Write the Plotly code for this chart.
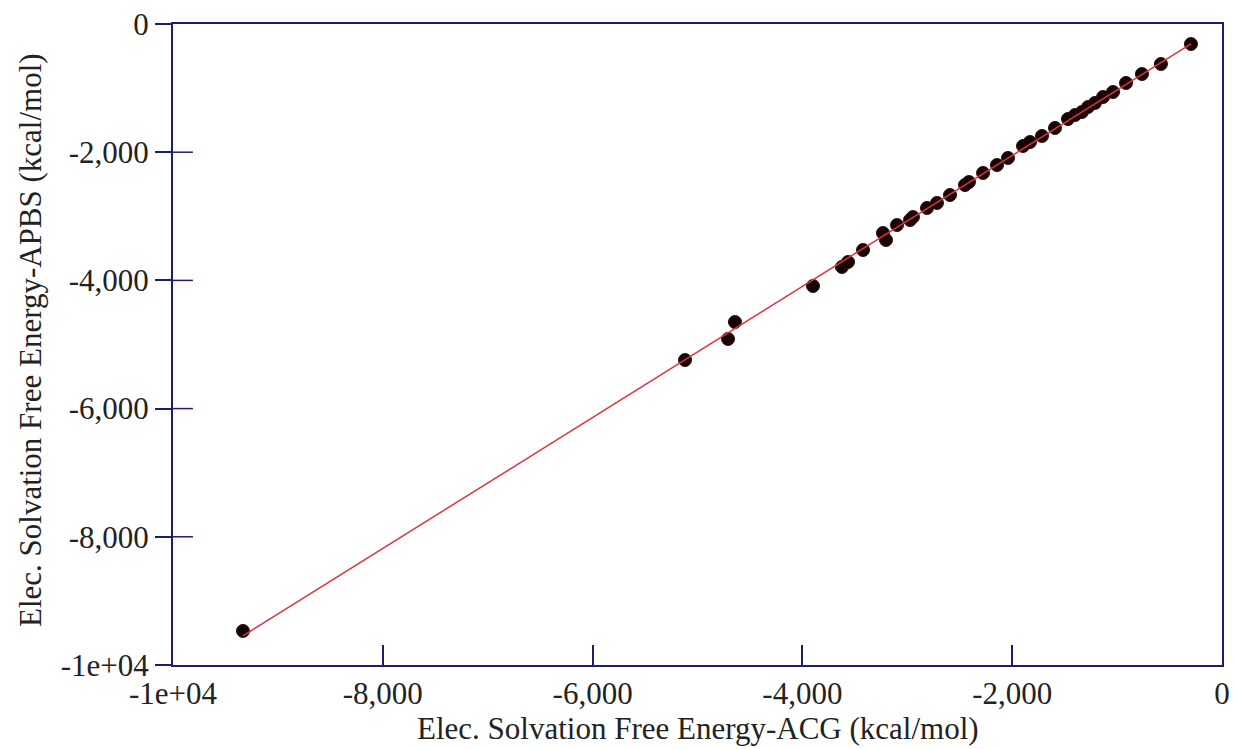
import numpy as np
import plotly.graph_objects as go

# Data (kcal/mol)
acg = [-9333, -5119, -4709, -4643, -3899, -3623, -3565, -3422, -3232, -3203,
       -3098, -2974, -2946, -2812, -2717, -2593, -2450, -2412, -2278, -2145,
       -2040, -1897, -1830, -1716, -1592, -1468, -1401, -1335, -1277, -1211,
       -1134, -1039, -915, -763, -582, -296]
apbs = [-9469, -5242, -4914, -4649, -4087, -3791, -3713, -3526, -3261, -3370,
        -3136, -3058, -3011, -2870, -2792, -2668, -2512, -2465, -2324, -2200,
        -2090, -1903, -1841, -1747, -1622, -1482, -1420, -1373, -1295, -1232,
        -1139, -1061, -920, -780, -624, -312]

tick_vals = [-10000, -8000, -6000, -4000, -2000, 0]
tick_text = ["-1e+04", "-8,000", "-6,000", "-4,000", "-2,000", "0"]

x_title = "Elec. Solvation Free Energy-ACG (kcal/mol)"
y_title = "Elec. Solvation Free Energy-APBS (kcal/mol)"

x_arr = np.array(acg, dtype=float)
y_arr = np.array(apbs, dtype=float)
slope, intercept = np.polyfit(x_arr, y_arr, 1)
fit_x = np.array([x_arr.min(), x_arr.max()])
fit_y = slope * fit_x + intercept

AX = "#1c1c78"
FONT = "Liberation Serif, Times New Roman, serif"
FS = 31
TXT = "#222222"

fig = go.Figure()
fig.add_trace(go.Scatter(x=acg, y=apbs, mode="markers",
                         marker=dict(color="#140404", size=13,
                                     line=dict(color="#3a0a0a", width=1)),
                         showlegend=False))
fig.add_trace(go.Scatter(x=fit_x, y=fit_y, mode="lines",
                         line=dict(color="#e0323c", width=1.5),
                         showlegend=False))

# inner halves of the y ticks (the reference ticks cross the axis line)
for v in tick_vals[1:-1]:
    fig.add_shape(type="line", xref="x domain", x0=0, x1=0.019,
                  yref="y", y0=v, y1=v,
                  line=dict(color=AX, width=1.5), layer="above")

fig.update_layout(
    width=1235, height=749,
    margin=dict(l=173, r=13, t=24, b=84),
    paper_bgcolor="white", plot_bgcolor="white",
    font=dict(family=FONT, size=FS, color=TXT),
    xaxis=dict(range=[-10000, 0], tickvals=tick_vals, ticktext=tick_text,
               showgrid=False, zeroline=False, automargin=False,
               showline=True, linecolor=AX, linewidth=2, mirror=True,
               ticks="inside", ticklen=20, tickcolor=AX, tickwidth=1.5,
               tickfont=dict(size=FS, color=TXT)),
    yaxis=dict(range=[-10000, 0], tickvals=tick_vals, ticktext=tick_text,
               showgrid=False, zeroline=False, automargin=False,
               showline=True, linecolor=AX, linewidth=2, mirror=True,
               ticks="outside", ticklen=16, tickcolor=AX, tickwidth=1.5,
               tickfont=dict(size=FS, color=TXT)),
    annotations=[
        dict(text=x_title, xref="paper", yref="paper", x=0.5, y=-0.099,
             xanchor="center", yanchor="middle", showarrow=False,
             font=dict(size=FS, color=TXT, family=FONT)),
        dict(text=y_title, xref="paper", yref="paper", x=-0.1363, y=0.507,
             xanchor="center", yanchor="middle", showarrow=False,
             textangle=-90, font=dict(size=FS, color=TXT, family=FONT)),
    ],
)

fig.write_html("out.html")
